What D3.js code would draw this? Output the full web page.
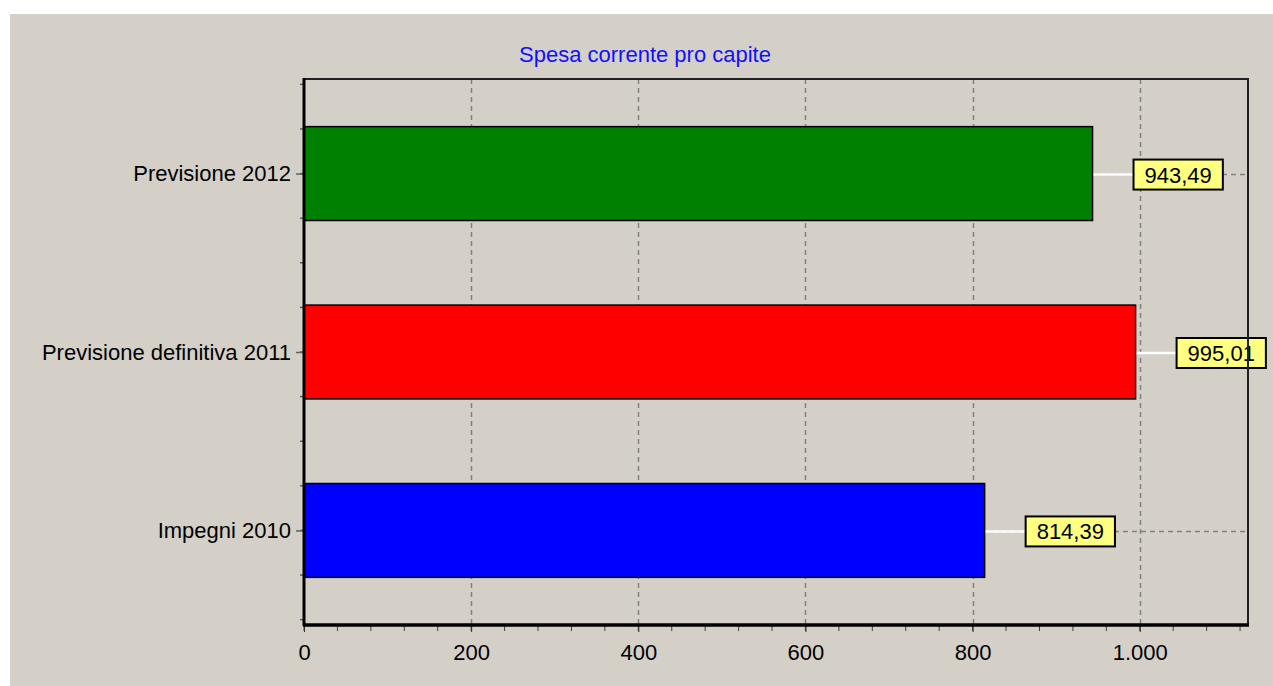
<!DOCTYPE html>
<html>
<head>
<meta charset="utf-8">
<script src="https://cdn.jsdelivr.net/npm/d3@7/dist/d3.min.js"></script>
<style>
  html, body { margin: 0; padding: 0; background: #ffffff; }
  svg { display: block; }
  text { font-family: "Liberation Sans", Arial, sans-serif; }
</style>
</head>
<body>
<svg id="chart" width="1273" height="686"></svg>
<script>
// ---- data ----
const title = "Spesa corrente pro capite";
const categories = ["Impegni 2010", "Previsione definitiva 2011", "Previsione 2012"];
const values = [814.39, 995.01, 943.49];
const barColors = ["#0000ff", "#ff0000", "#008000"];
const xTicks = [0, 200, 400, 600, 800, 1000];
const xDomain = [0, 1129.5];

// ---- layout ----
const W = 1273, H = 686;
const plot = { left: 304, right: 1248, top: 79, bottom: 625 };
const fontSize = 22;

const it = d3.formatLocale({ decimal: ",", thousands: ".", grouping: [3], currency: ["€", ""] });
const fmtTick = it.format(",d");
const fmtVal = it.format(",.2f");

const svg = d3.select("#chart");

// panel background
svg.append("rect").attr("x", 10).attr("y", 14).attr("width", W - 10).attr("height", H - 14)
  .attr("fill", "#d4d0c8");

const x = d3.scaleLinear().domain(xDomain).range([plot.left, plot.right]);
const y = d3.scaleLinear().domain([-0.53, categories.length - 1 + 0.53]).range([plot.bottom, plot.top]);
const halfBar = 0.263;

// vertical grid
svg.append("g").selectAll("line").data(xTicks.filter(d => d > 0)).join("line")
  .attr("x1", d => Math.round(x(d)) + 0.5).attr("x2", d => Math.round(x(d)) + 0.5)
  .attr("y1", plot.top).attr("y2", plot.bottom)
  .attr("stroke", "#808080").attr("stroke-width", 1.5).attr("stroke-dasharray", "5,4");

// horizontal grid at category centres
svg.append("g").selectAll("line").data(categories.map((c, i) => i)).join("line")
  .attr("x1", plot.left).attr("x2", plot.right)
  .attr("y1", d => y(d) + 1).attr("y2", d => y(d) + 1)
  .attr("stroke", "#808080").attr("stroke-width", 1.5).attr("stroke-dasharray", "5,4");

// bars
svg.append("g").selectAll("rect").data(values).join("rect")
  .attr("x", x(0))
  .attr("y", (d, i) => y(i + halfBar))
  .attr("width", d => x(d) - x(0))
  .attr("height", (d, i) => y(i - halfBar) - y(i + halfBar))
  .attr("fill", (d, i) => barColors[i])
  .attr("stroke", "#000").attr("stroke-width", 1.5);

// value labels
const gap = 41, boxH = 30, padX = 11;
const lab = svg.append("g").selectAll("g").data(values).join("g");
lab.append("line")
  .attr("x1", d => x(d) + 1).attr("x2", d => x(d) + gap)
  .attr("y1", (d, i) => y(i) + 1).attr("y2", (d, i) => y(i) + 1)
  .attr("stroke", "#ffffff").attr("stroke-width", 2.5);
const labText = lab.append("text")
  .attr("x", d => x(d) + gap + padX)
  .attr("y", (d, i) => y(i) + 1 + 8)
  .attr("font-size", fontSize).attr("fill", "#000")
  .text(d => fmtVal(d));
labText.each(function(d, i) {
  const w = this.getComputedTextLength();
  d3.select(this.parentNode).insert("rect", "text")
    .attr("x", x(d) + gap).attr("y", y(i) + 1 - boxH / 2)
    .attr("width", w + padX * 2).attr("height", boxH)
    .attr("fill", "#ffff80").attr("stroke", "#000").attr("stroke-width", 2);
});

// frame top/right
svg.append("path")
  .attr("d", `M${plot.left},${plot.top}H${plot.right}V${plot.bottom}`)
  .attr("fill", "none").attr("stroke", "#202020").attr("stroke-width", 2);

// x axis
const xMinor = d3.range(0, xDomain[1], 40);
svg.append("g").selectAll("line").data(xMinor).join("line")
  .attr("x1", d => x(d)).attr("x2", d => x(d))
  .attr("y1", plot.bottom).attr("y2", plot.bottom + 6)
  .attr("stroke", "#404040").attr("stroke-width", 1);
const xAxis = d3.axisBottom(x).tickValues(xTicks).tickFormat(fmtTick).tickSize(7).tickPadding(12);
const gx = svg.append("g").attr("transform", `translate(0,${plot.bottom})`).call(xAxis);
gx.select(".domain").remove();
gx.selectAll(".tick line").attr("stroke", "#303030");
gx.selectAll("text").attr("font-size", fontSize).attr("fill", "#000")
  .attr("font-family", '"Liberation Sans", Arial, sans-serif');
svg.append("line").attr("x1", plot.left - 1).attr("x2", plot.right + 1)
  .attr("y1", plot.bottom).attr("y2", plot.bottom)
  .attr("stroke", "#000").attr("stroke-width", 3.5);

// y axis
const yMinor = d3.range(-0.5, categories.length - 0.5 + 0.01, 0.25);
svg.append("g").selectAll("line").data(yMinor).join("line")
  .attr("x1", plot.left - 4).attr("x2", plot.left)
  .attr("y1", d => y(d)).attr("y2", d => y(d))
  .attr("stroke", "#606060").attr("stroke-width", 1.5);
const yAxis = d3.axisLeft(y).tickValues(categories.map((c, i) => i))
  .tickFormat(i => categories[i]).tickSize(8).tickPadding(5);
const gy = svg.append("g").attr("transform", `translate(${plot.left},0)`).call(yAxis);
gy.select(".domain").remove();
gy.selectAll(".tick line").attr("stroke", "#606060").attr("stroke-width", 1.5);
gy.selectAll("text").attr("font-size", fontSize).attr("fill", "#000")
  .attr("font-family", '"Liberation Sans", Arial, sans-serif');
svg.append("line").attr("x1", plot.left).attr("x2", plot.left)
  .attr("y1", plot.top - 1).attr("y2", plot.bottom + 1)
  .attr("stroke", "#000").attr("stroke-width", 3);

// title
svg.append("text").attr("x", 645).attr("y", 62).attr("text-anchor", "middle")
  .attr("font-size", fontSize).attr("fill", "#1010ff").text(title);
</script>
</body>
</html>
